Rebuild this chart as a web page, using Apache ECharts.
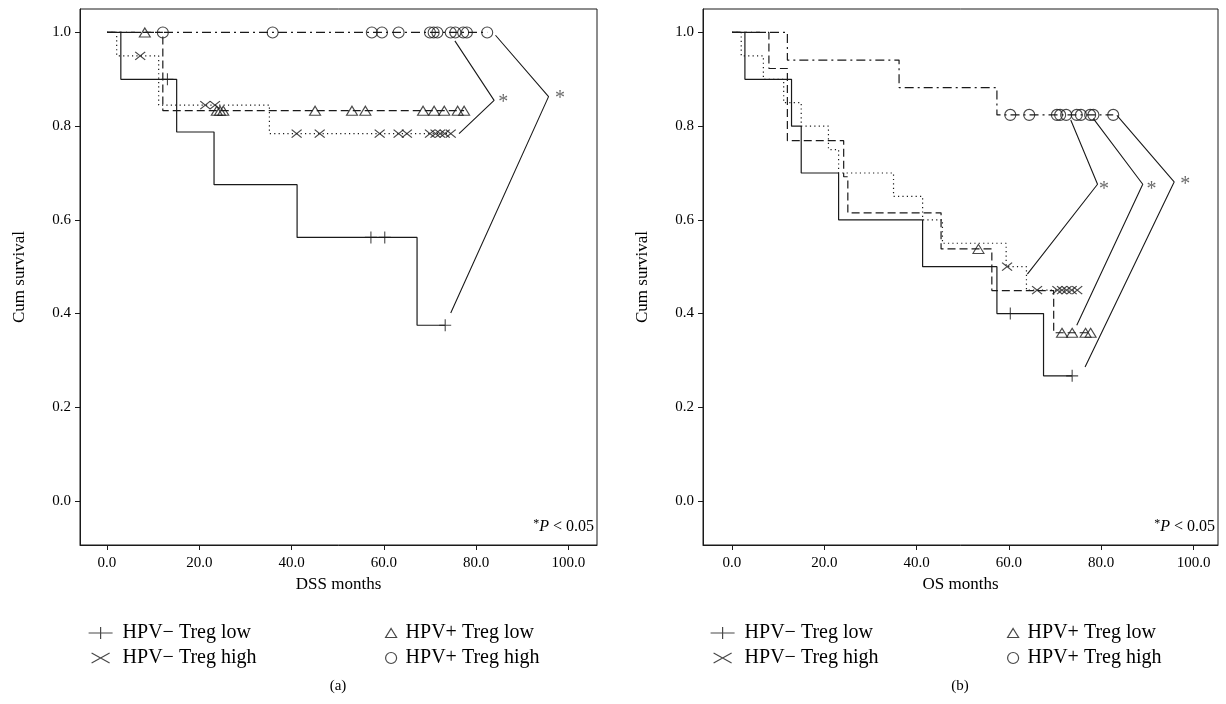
<!DOCTYPE html>
<html><head><meta charset="utf-8">
<script src="https://cdn.jsdelivr.net/npm/echarts@6/dist/echarts.min.js"></script>
<style>html,body{margin:0;padding:0;background:#fff}#c{width:1226px;height:704px}</style>
</head><body><div id="c"></div>
<script>
// ---------- data (months, cumulative survival) ----------
const groupNames = ['HPV− Treg low', 'HPV− Treg high', 'HPV+ Treg low', 'HPV+ Treg high'];
const xTicks = [0, 20, 40, 60, 80, 100];
const yTicks = [0, 0.2, 0.4, 0.6, 0.8, 1.0];

// Panel (a) DSS
const dssNegLowCurve  = [[0,1],[3.0,0.9],[15.1,0.7875],[23.2,0.675],[41.2,0.5625],[67.2,0.375],[73.3,0.375]];
const dssNegLowCens   = [[13.1,0.9],[57.2,0.5625],[60.2,0.5625],[73.3,0.375]];
const dssNegHighCurve = [[0,1],[2.1,0.95],[11.2,0.845],[35.2,0.784],[74.5,0.784]];
const dssNegHighCens  = [[7.2,0.95],[21.3,0.845],[23.4,0.845],[41.1,0.784],[46.1,0.784],[59.1,0.784],[63.2,0.784],[65.0,0.784],[70.0,0.784],[71.2,0.784],[72.2,0.784],[73.2,0.784],[74.5,0.784]];
const dssPosLowCurve  = [[0,1],[12.1,0.833],[77.4,0.833]];
const dssPosLowCens   = [[8.2,1],[23.8,0.833],[24.5,0.833],[25.2,0.833],[45.1,0.833],[53.1,0.833],[56.0,0.833],[68.5,0.833],[70.9,0.833],[73.1,0.833],[76.0,0.833],[77.4,0.833]];
const dssPosHighCurve = [[0,1],[82.4,1]];
const dssPosHighCens  = [[12.1,1],[35.9,1],[57.4,1],[59.6,1],[63.2,1],[70.0,1],[70.8,1],[71.6,1],[74.5,1],[75.5,1],[77.2,1],[78.0,1],[82.4,1]];
const dssBrackets = [
  [[75.4,0.982],[83.9,0.855],[76.3,0.784]],
  [[84.2,0.994],[95.7,0.863],[74.5,0.401]]
];
const dssStars = [[85.9,0.859],[98.2,0.866]];

// Panel (b) OS
const osNegLowCurve  = [[0,1],[2.8,0.9],[12.9,0.8],[15.0,0.7],[23.1,0.6],[41.3,0.5],[57.4,0.4],[67.5,0.267],[73.7,0.267]];
const osNegLowCens   = [[60.3,0.4],[73.7,0.267]];
const osNegHighCurve = [[0,1],[2.0,0.95],[6.8,0.9],[11.2,0.85],[15.0,0.8],[20.9,0.75],[23.1,0.7],[35.0,0.65],[41.3,0.6],[45.6,0.55],[59.4,0.5],[63.8,0.45],[74.8,0.45]];
const osNegHighCens  = [[59.6,0.5],[66.1,0.45],[70.5,0.45],[71.5,0.45],[72.5,0.45],[73.6,0.45],[74.8,0.45]];
const osPosLowCurve  = [[0,1],[8.0,0.923],[12.0,0.769],[24.2,0.692],[25.1,0.615],[45.3,0.538],[56.3,0.449],[69.7,0.359],[77.7,0.359]];
const osPosLowCens   = [[53.4,0.538],[71.5,0.359],[73.7,0.359],[76.6,0.359],[77.7,0.359]];
const osPosHighCurve = [[0,1],[12.0,0.941],[36.2,0.882],[57.4,0.824],[82.6,0.824]];
const osPosHighCens  = [[60.3,0.824],[64.4,0.824],[70.4,0.824],[71.1,0.824],[72.4,0.824],[74.7,0.824],[75.6,0.824],[77.6,0.824],[78.3,0.824],[82.6,0.824]];
const osBrackets = [
  [[73.4,0.813],[79.2,0.676],[64.0,0.484]],
  [[78.3,0.816],[89.0,0.676],[74.7,0.375]],
  [[83.4,0.823],[95.8,0.681],[76.5,0.286]]
];
const osStars = [[80.6,0.673],[90.9,0.673],[98.2,0.683]];

// ---------- styles ----------
const FONT = 'Liberation Serif';
const INK = '#1a1a1a';
const symPlus  = 'path://M0,6L12,6M6,0L6,12';
const symCross = 'path://M0,0L10,8M0,8L10,0';
const symTri   = 'path://M5.5,0L11,9L0,9Z';
const legPlus  = 'path://M0,6L24,6M12,0L12,12';
const legCross = 'path://M3,1L21,11M3,11L21,1M0,0L0,0M24,12L24,12';
const groupSymbols = [
  {sym: symPlus,  size: [12,12], dash: 'solid'},
  {sym: symCross, size: [10,8],  dash: [1.2,3.2]},
  {sym: symTri,   size: [11,9],  dash: [8,4]},
  {sym: 'circle', size: 11,      dash: [9,4,2,4]}
];

function curveSeries(data, gi, g) {
  return {type:'line', name: groupNames[g] + ' curve', xAxisIndex: gi, yAxisIndex: gi, data,
    step:'end', symbol:'none', showSymbol:false, silent:true, z: 2,
    lineStyle:{color:INK, width:1.2, type: groupSymbols[g].dash}};
}
function censSeries(data, gi, g) {
  return {type:'scatter', name: groupNames[g], xAxisIndex: gi, yAxisIndex: gi, data,
    symbol: groupSymbols[g].sym, symbolSize: groupSymbols[g].size, z: 3, silent:true,
    itemStyle:{color:'rgba(0,0,0,0)', borderColor:INK, borderWidth:1.1}};
}
function bracketSeries(list, gi) {
  return list.map(d => ({type:'line', xAxisIndex: gi, yAxisIndex: gi, data: d, symbol:'none', silent:true,
    lineStyle:{color:INK, width:1.1}, z: 2}));
}
function starSeries(data, gi) {
  return {type:'scatter', xAxisIndex: gi, yAxisIndex: gi, data, symbolSize: 1, silent:true,
    itemStyle:{color:'rgba(0,0,0,0)'},
    label:{show:true, formatter:'*', position:'inside', fontFamily:FONT, fontSize:20, color:'#444', offset:[0,4]}};
}

function xAxis(gi, min, max, name) {
  return {gridIndex: gi, type:'value', min, max, name, nameLocation:'middle', nameGap: 31,
    nameTextStyle:{fontFamily:FONT, fontSize:17, color:'#000'},
    axisLine:{show:true, onZero:false, lineStyle:{color:INK, width:1}},
    axisTick:{show:true, length:5, customValues: xTicks, lineStyle:{color:INK}},
    axisLabel:{customValues: xTicks, formatter: v => v.toFixed(1), margin: 11, fontFamily:FONT, fontSize:15, color:'#000'},
    splitLine:{show:false}};
}
function yAxis(gi) {
  return {gridIndex: gi, type:'value', min:-0.094, max:1.05, name:'Cum survival', nameLocation:'middle', nameGap: 52,
    nameTextStyle:{fontFamily:FONT, fontSize:17, color:'#000'},
    axisLine:{show:true, onZero:false, lineStyle:{color:INK, width:1}},
    axisTick:{show:true, length:5, customValues: yTicks, lineStyle:{color:INK}},
    axisLabel:{customValues: yTicks, formatter: v => v.toFixed(1), margin: 9, fontFamily:FONT, fontSize:15, color:'#000'},
    splitLine:{show:false}};
}
function legend(left, items, w, h, pad) {
  return {left, top: 618, orient:'vertical', itemGap: 5, itemWidth: w, itemHeight: h, selectedMode:false,
    symbolKeepAspect: true,
    data: items, itemStyle:{color:'rgba(0,0,0,0)', borderColor:INK, borderWidth:1.2},
    textStyle:{fontFamily:FONT, fontSize:20, color:'#000', padding:[0,0,0,pad]}};
}
function pText(x, y) {
  return {type:'text', x, y, style:{text:'{s|*}{i|P} < 0.05', align:'right', verticalAlign:'middle',
    fontFamily:FONT, fontSize:16, fill:'#000',
    rich:{s:{fontFamily:FONT, fontSize:12, verticalAlign:'top', lineHeight:18, fill:'#000'},
          i:{fontFamily:FONT, fontSize:16, fontStyle:'italic', lineHeight:18, fill:'#000'}}}};
}

const series = [
  curveSeries(dssNegLowCurve,0,0), curveSeries(dssNegHighCurve,0,1), curveSeries(dssPosLowCurve,0,2), curveSeries(dssPosHighCurve,0,3),
  censSeries(dssNegLowCens,0,0), censSeries(dssNegHighCens,0,1), censSeries(dssPosLowCens,0,2), censSeries(dssPosHighCens,0,3),
  ...bracketSeries(dssBrackets,0), starSeries(dssStars,0),
  curveSeries(osNegLowCurve,1,0), curveSeries(osNegHighCurve,1,1), curveSeries(osPosLowCurve,1,2), curveSeries(osPosHighCurve,1,3),
  censSeries(osNegLowCens,1,0), censSeries(osNegHighCens,1,1), censSeries(osPosLowCens,1,2), censSeries(osPosHighCens,1,3),
  ...bracketSeries(osBrackets,1), starSeries(osStars,1)
];

const chart = echarts.init(document.getElementById('c'), null, {renderer:'canvas'});
chart.setOption({
  animation:false,
  backgroundColor:'#fff',
  grid:[
    {left:80, top:9, width:517, height:536, show:true, borderColor:INK, borderWidth:1, containLabel:false},
    {left:703, top:9, width:515, height:536, show:true, borderColor:INK, borderWidth:1, containLabel:false}
  ],
  xAxis:[xAxis(0,-5.85,106.2,'DSS months'), xAxis(1,-6.28,105.3,'OS months')],
  yAxis:[yAxis(0), yAxis(1)],
  legend:[
    legend(83,  [{name:groupNames[0], icon:legPlus},{name:groupNames[1], icon:legCross}], 24, 12, 5),
    legend(380, [{name:groupNames[2], icon:symTri},{name:groupNames[3], icon:'circle'}], 11, 11, 4),
    legend(705, [{name:groupNames[0], icon:legPlus},{name:groupNames[1], icon:legCross}], 24, 12, 5),
    legend(1002,[{name:groupNames[2], icon:symTri},{name:groupNames[3], icon:'circle'}], 11, 11, 4)
  ],
  graphic:[
    pText(594, 527), pText(1215, 527),
    {type:'text', x:338, y:686, style:{text:'(a)', align:'center', verticalAlign:'middle', fontFamily:FONT, fontSize:15, fill:'#000'}},
    {type:'text', x:960, y:686, style:{text:'(b)', align:'center', verticalAlign:'middle', fontFamily:FONT, fontSize:15, fill:'#000'}}
  ],
  series
});
</script></body></html>
